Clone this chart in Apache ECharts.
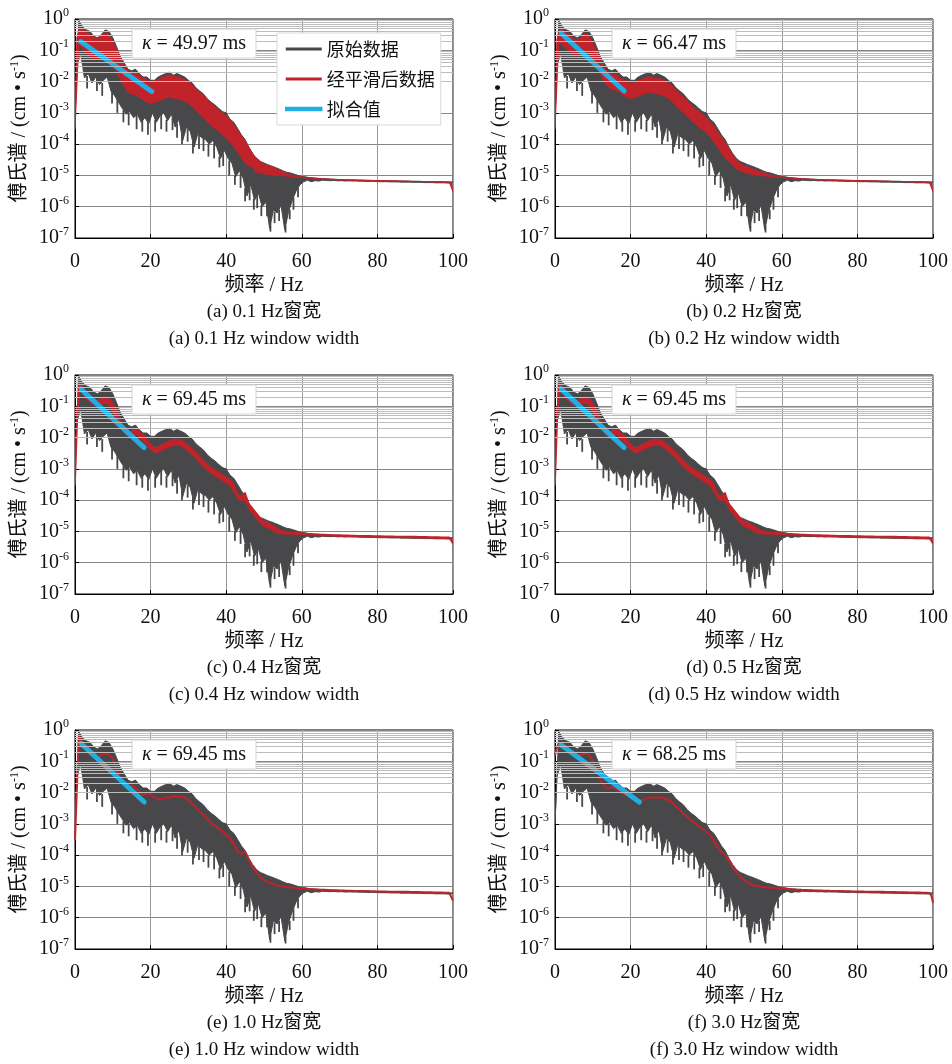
<!DOCTYPE html>
<html>
<head>
<meta charset="utf-8">
<script src="https://cdn.jsdelivr.net/npm/echarts@6/dist/echarts.min.js"></script>
<style>html,body{margin:0;padding:0;background:#fff}#c{width:952px;height:1064px}</style>
</head>
<body>
<div id="c"></div>
<script>
// ---------------- data ----------------
const xTicks = [0, 20, 40, 60, 80, 100];
const yTickExps = [-7, -6, -5, -4, -3, -2, -1, 0];

// raw spectrum (same in all panels): upper peaks at x = 0,1,...,100 ; lower troughs at x = 0.5,1.5,...,99.5
const rawHi = [
1e-3,9e-1,5.6e-1,4.5e-1,4e-1,2.8e-1,2.5e-1,3.2e-1,4.5e-1,4e-1,
2.5e-1,1.3e-1,6.3e-2,4e-2,2.5e-2,2.2e-2,2.5e-2,1.8e-2,1.4e-2,1.4e-2,
1.1e-2,1.1e-2,1.4e-2,1.6e-2,1.8e-2,2e-2,1.6e-2,1.8e-2,1.6e-2,1.4e-2,
1.1e-2,9e-3,6.3e-3,5e-3,4e-3,2.8e-3,2.2e-3,1.8e-3,1.4e-3,1.1e-3,
1e-3,6.3e-4,5e-4,3.2e-4,2e-4,1.4e-4,8e-5,5e-5,3.5e-5,2.8e-5,
2.5e-5,2.2e-5,2e-5,1.8e-5,1.6e-5,1.4e-5,1.26e-5,1.2e-5,1.1e-5,1e-5,
9.3e-6,9e-6,8.5e-6,8.3e-6,8.1e-6,8e-6,7.8e-6,7.7e-6,7.6e-6,7.5e-6,
7.4e-6,7.3e-6,7.3e-6,7.2e-6,7.2e-6,7.1e-6,7.1e-6,7e-6,7e-6,6.9e-6,
6.9e-6,6.8e-6,6.8e-6,6.7e-6,6.7e-6,6.7e-6,6.6e-6,6.6e-6,6.6e-6,6.5e-6,
6.5e-6,6.5e-6,6.4e-6,6.4e-6,6.4e-6,6.3e-6,6.3e-6,6.3e-6,6.2e-6,6.2e-6,
6.2e-6];
const rawLo = [
3.2e-2,8e-2,1.3e-2,1.8e-2,9e-3,1.4e-2,8e-3,1.1e-2,1.4e-2,5e-3,
3.5e-3,2.2e-3,1.4e-3,9e-4,1.1e-3,7e-4,9e-4,5e-4,7e-4,4.5e-4,
1e-3,5e-4,8e-4,1e-3,5.6e-4,9e-4,3.5e-4,6.3e-4,1.3e-4,3.5e-4,
2.5e-4,8e-5,2.2e-4,1.6e-4,1.4e-4,1e-4,1.3e-4,8e-5,3.5e-5,6.3e-5,
3.5e-5,2.5e-5,9e-6,1.4e-5,8e-6,2.2e-6,5e-6,1.6e-6,2.8e-6,1e-6,
1.4e-6,2e-7,8e-7,6.3e-7,1.1e-6,1.8e-7,7e-7,1.6e-6,3.2e-6,5e-6,
6.3e-6,7e-6,6.3e-6,6.8e-6,6.6e-6,7e-6,6.9e-6,6.8e-6,6.9e-6,6.7e-6,
6.8e-6,6.6e-6,6.7e-6,6.6e-6,6.6e-6,6.5e-6,6.5e-6,6.4e-6,6.5e-6,6.4e-6,
6.3e-6,6.3e-6,6.3e-6,6.2e-6,6.2e-6,6.2e-6,6.1e-6,6.1e-6,6.1e-6,6e-6,
6e-6,6e-6,5.9e-6,5.9e-6,5.9e-6,5.8e-6,5.8e-6,5.8e-6,5.7e-6,5.7e-6];
// narrow downward spikes of the raw spectrum: [frequency, from, to]
const rawSpikes = [
[3.2,1.5e-2,6e-3],[5.8,1.2e-2,5e-3],[7.2,9e-3,3.5e-3],[9.8,5e-3,2e-3],[11.2,2.8e-3,1e-3],
[12.8,1.2e-3,5e-4],[14.2,1e-3,4e-4],[16.3,9e-4,3e-4],[17.8,6e-4,2.5e-4],[19.3,5e-4,2e-4],
[21.2,6e-4,2.5e-4],[22.8,9e-4,3e-4],[24.2,6e-4,2.5e-4],[25.8,7e-4,2.8e-4],[27.0,4.5e-4,1.6e-4],
[28.3,2e-4,1e-4],[29.8,3e-4,1.2e-4],[31.2,1.2e-4,5e-5],[32.8,2e-4,7e-5],[34.0,1.5e-4,6e-5],
[35.3,1e-4,4e-5],[36.8,1.1e-4,3.5e-5],[38.2,4e-5,1.8e-5],[39.2,5e-5,2e-5],[40.8,3e-5,1e-5],
[42.3,1e-5,5e-6],[43.8,1.2e-5,4e-6],[45.0,4e-6,1.5e-6],[46.2,4e-6,1.6e-6],[47.3,1.8e-6,8e-7],
[48.2,2.5e-6,9e-7],[49.3,1.1e-6,5e-7],[50.8,1.1e-6,5e-7],[51.7,3e-7,1.6e-7],[52.8,7e-7,3e-7],
[54.0,8e-7,3.5e-7],[55.7,2.5e-7,1.5e-7],[56.8,8e-7,4e-7],[57.8,2e-6,8e-7],[59.0,4e-6,2e-6]];

// (a) 0.1 Hz smoothing: peaks at x = 0.5..99.5, troughs at x = 0..100
const redAHi = [
2.5e-1,7e-1,4.5e-1,3.5e-1,2.8e-1,2.5e-1,2.5e-1,3.5e-1,3.5e-1,2.5e-1,
1.4e-1,8e-2,4.5e-2,2.8e-2,2e-2,2e-2,1.8e-2,1.4e-2,1.25e-2,1e-2,
1e-2,1.1e-2,1.25e-2,1.4e-2,1.6e-2,1.6e-2,1.4e-2,1.4e-2,1.25e-2,1.1e-2,
9e-3,7e-3,5e-3,4e-3,3.2e-3,2.2e-3,1.8e-3,1.4e-3,1.1e-3,9e-4,
7e-4,5e-4,3.5e-4,2.2e-4,1.6e-4,1e-4,6.3e-5,4e-5,3.2e-5,2.5e-5,
2.2e-5,2e-5,1.8e-5,1.6e-5,1.4e-5,1.25e-5,1.1e-5,1e-5,9.3e-6,9e-6,
8.8e-6,8.6e-6,8.4e-6,8.2e-6,8e-6,7.8e-6,7.7e-6,7.6e-6,7.5e-6,7.4e-6,
7.3e-6,7.2e-6,7.2e-6,7.1e-6,7.1e-6,7e-6,7e-6,6.9e-6,6.9e-6,6.8e-6,
6.8e-6,6.7e-6,6.7e-6,6.7e-6,6.6e-6,6.6e-6,6.6e-6,6.5e-6,6.5e-6,6.5e-6,
6.4e-6,6.4e-6,6.4e-6,6.3e-6,6.3e-6,6.3e-6,6.2e-6,6.2e-6,6.2e-6,6.1e-6];
const redALo = [
3e-4,1.6e-1,1.1e-1,8e-2,6.3e-2,5.3e-2,5e-2,5.9e-2,7e-2,5.9e-2,
3.7e-2,2.1e-2,1.2e-2,7e-3,4.7e-3,4e-3,3.7e-3,3.2e-3,2.6e-3,2.2e-3,
2e-3,2.1e-3,2.4e-3,2.6e-3,3e-3,3.2e-3,3e-3,2.8e-3,2.6e-3,2.4e-3,
2e-3,1.6e-3,1.2e-3,9e-4,7e-4,5.3e-4,4e-4,3.2e-4,2.5e-4,2e-4,
1.6e-4,1.2e-4,8.4e-5,5.6e-5,3.7e-5,2.5e-5,2e-5,1.8e-5,1.25e-5,1.25e-5,
1.1e-5,1.1e-5,1.05e-5,1e-5,1e-5,1e-5,9.5e-6,9.1e-6,8.7e-6,8.5e-6,
8.5e-6,8.4e-6,8.2e-6,8e-6,7.9e-6,7.7e-6,7.6e-6,7.5e-6,7.4e-6,7.3e-6,
7.2e-6,7.2e-6,7.1e-6,7.1e-6,7e-6,7e-6,6.9e-6,6.9e-6,6.8e-6,6.8e-6,
6.7e-6,6.7e-6,6.7e-6,6.6e-6,6.6e-6,6.6e-6,6.5e-6,6.5e-6,6.5e-6,6.4e-6,
6.4e-6,6.4e-6,6.3e-6,6.3e-6,6.3e-6,6.2e-6,6.2e-6,6.2e-6,6.1e-6,6.1e-6,
3e-6];

// (b) 0.2 Hz smoothing
const redBHi = [
2.2e-1,6.3e-1,4e-1,3.2e-1,2.5e-1,2.2e-1,2.2e-1,3.2e-1,3.2e-1,2.2e-1,
1.25e-1,7e-2,4e-2,2.5e-2,1.8e-2,1.8e-2,1.6e-2,1.25e-2,1.1e-2,9e-3,
9e-3,1e-2,1.1e-2,1.25e-2,1.4e-2,1.4e-2,1.25e-2,1.25e-2,1.1e-2,1e-2,
8e-3,6.3e-3,4.5e-3,3.5e-3,2.8e-3,2e-3,1.6e-3,1.25e-3,1e-3,8e-4,
6.3e-4,4.5e-4,3.2e-4,2e-4,1.4e-4,9e-5,5.6e-5,3.7e-5,2.8e-5,2.2e-5,
2e-5,1.8e-5,1.6e-5,1.4e-5,1.3e-5,1.2e-5,1.05e-5,9.7e-6,9.2e-6,8.9e-6,
8.8e-6,8.6e-6,8.4e-6,8.2e-6,8e-6,7.8e-6,7.7e-6,7.6e-6,7.5e-6,7.4e-6,
7.3e-6,7.2e-6,7.2e-6,7.1e-6,7.1e-6,7e-6,7e-6,6.9e-6,6.9e-6,6.8e-6,
6.8e-6,6.7e-6,6.7e-6,6.7e-6,6.6e-6,6.6e-6,6.6e-6,6.5e-6,6.5e-6,6.5e-6,
6.4e-6,6.4e-6,6.4e-6,6.3e-6,6.3e-6,6.3e-6,6.2e-6,6.2e-6,6.2e-6,6.1e-6];
const redBLo = [
3e-4,2e-1,1.4e-1,1.1e-1,9e-2,7.5e-2,7e-2,8.5e-2,1e-1,8.5e-2,
5.3e-2,3e-2,1.7e-2,1e-2,6.8e-3,5.8e-3,5.4e-3,4.6e-3,3.7e-3,3.2e-3,
2.9e-3,3e-3,3.4e-3,3.8e-3,4.3e-3,4.5e-3,4.3e-3,4e-3,3.8e-3,3.4e-3,
2.9e-3,2.3e-3,1.7e-3,1.3e-3,1e-3,7.6e-4,5.8e-4,4.6e-4,3.6e-4,2.9e-4,
2.3e-4,1.7e-4,1.2e-4,8e-5,5.3e-5,3.6e-5,2.7e-5,2.1e-5,1.6e-5,1.4e-5,
1.25e-5,1.15e-5,1.1e-5,1.05e-5,1e-5,9.8e-6,9.5e-6,9.1e-6,8.8e-6,8.6e-6,
8.5e-6,8.4e-6,8.2e-6,8e-6,7.9e-6,7.7e-6,7.6e-6,7.5e-6,7.4e-6,7.3e-6,
7.2e-6,7.2e-6,7.1e-6,7.1e-6,7e-6,7e-6,6.9e-6,6.9e-6,6.8e-6,6.8e-6,
6.7e-6,6.7e-6,6.7e-6,6.6e-6,6.6e-6,6.6e-6,6.5e-6,6.5e-6,6.5e-6,6.4e-6,
6.4e-6,6.4e-6,6.3e-6,6.3e-6,6.3e-6,6.2e-6,6.2e-6,6.2e-6,6.1e-6,6.1e-6,
3e-6];

// (c) 0.4 Hz smoothing: peaks at x = 0..100, troughs at x = 0.5..99.5
const redCHi = [
3e-4,9e-1,3.8e-1,2.4e-1,1.9e-1,1.7e-1,1.5e-1,1.7e-1,1.9e-1,1.7e-1,
1.2e-1,6.3e-2,3.4e-2,2.1e-2,1.5e-2,1.5e-2,2.1e-2,1.5e-2,1.2e-2,8.5e-3,
6e-3,4.8e-3,4.8e-3,6e-3,6.7e-3,7.6e-3,8.5e-3,8.5e-3,8.5e-3,6.7e-3,
5.4e-3,4.3e-3,3.3e-3,2.4e-3,1.8e-3,1.35e-3,1.07e-3,9.1e-4,7.6e-4,6.3e-4,
5.2e-4,4.3e-4,3.2e-4,1.5e-4,1.35e-4,1.7e-4,7.6e-5,5.4e-5,3.8e-5,2.7e-5,
2.1e-5,1.9e-5,1.6e-5,1.35e-5,1.12e-5,1.02e-5,9.5e-6,9.2e-6,9e-6,8.8e-6,
8.7e-6,8.5e-6,8.4e-6,8.2e-6,8.1e-6,8e-6,7.9e-6,7.8e-6,7.7e-6,7.7e-6,
7.6e-6,7.5e-6,7.5e-6,7.4e-6,7.4e-6,7.3e-6,7.3e-6,7.2e-6,7.2e-6,7.1e-6,
7.1e-6,7.1e-6,7e-6,7e-6,7e-6,6.9e-6,6.9e-6,6.9e-6,6.8e-6,6.8e-6,
6.8e-6,6.7e-6,6.7e-6,6.7e-6,6.6e-6,6.6e-6,6.6e-6,6.5e-6,6.5e-6,6.5e-6,
4e-6];
const redCLo = [
8e-2,4.2e-1,2.1e-1,1.5e-1,1.2e-1,1.1e-1,1.1e-1,1.25e-1,1.25e-1,1e-1,
6e-2,3.2e-2,1.8e-2,1.23e-2,1.05e-2,1.25e-2,1.25e-2,9.3e-3,6.9e-3,5e-3,
3.7e-3,3.3e-3,3.7e-3,4.3e-3,5e-3,5.5e-3,5.9e-3,5.9e-3,5.2e-3,4.2e-3,
3.3e-3,2.6e-3,1.9e-3,1.4e-3,1.07e-3,8.3e-4,6.9e-4,5.7e-4,4.8e-4,4e-4,
3.3e-4,2.5e-4,1.5e-4,1e-4,1.05e-4,7.9e-5,4.4e-5,3.2e-5,2.2e-5,1.65e-5,
1.4e-5,1.23e-5,1.05e-5,9.2e-6,8.5e-6,8.5e-6,8.4e-6,8.3e-6,8.2e-6,8.2e-6,
8.2e-6,8.1e-6,7.9e-6,7.8e-6,7.7e-6,7.6e-6,7.5e-6,7.4e-6,7.3e-6,7.2e-6,
7.2e-6,7.1e-6,7.1e-6,7e-6,7e-6,6.9e-6,6.9e-6,6.8e-6,6.8e-6,6.7e-6,
6.7e-6,6.7e-6,6.6e-6,6.6e-6,6.6e-6,6.5e-6,6.5e-6,6.5e-6,6.4e-6,6.4e-6,
6.4e-6,6.3e-6,6.3e-6,6.3e-6,6.2e-6,6.2e-6,6.2e-6,6.1e-6,6.1e-6,6.1e-6];

// (d) 0.5 Hz smoothing reads the same as (c) at this resolution
const redDHi = redCHi;
const redDLo = redCLo;

// (e) 1.0 Hz smoothing, x = 0..100
const redE = [
3e-4,6.3e-1,3.5e-1,2.2e-1,1.65e-1,1.4e-1,1.3e-1,1.6e-1,1.75e-1,1.6e-1,
1.2e-1,5.6e-2,2.6e-2,1.65e-2,1.3e-2,1.75e-2,1.4e-2,1.1e-2,8.3e-3,9.5e-3,
8.9e-3,7.1e-3,6e-3,6.3e-3,7.1e-3,6.6e-3,7.9e-3,7.2e-3,7.9e-3,6.9e-3,
5.75e-3,4.4e-3,3.3e-3,2.5e-3,1.9e-3,1.5e-3,1.02e-3,8.9e-4,7.1e-4,5.75e-4,
4.4e-4,3.5e-4,2.3e-4,1.3e-4,1.12e-4,1.3e-4,7.1e-5,4.2e-5,2.8e-5,2e-5,
1.58e-5,1.4e-5,1.26e-5,1.12e-5,1.02e-5,1e-5,9.5e-6,9.2e-6,9e-6,8.8e-6,
8.6e-6,8.4e-6,8.2e-6,8.1e-6,8e-6,7.9e-6,7.8e-6,7.7e-6,7.6e-6,7.5e-6,
7.4e-6,7.4e-6,7.3e-6,7.3e-6,7.2e-6,7.2e-6,7.1e-6,7.1e-6,7e-6,7e-6,
6.9e-6,6.9e-6,6.9e-6,6.8e-6,6.8e-6,6.8e-6,6.7e-6,6.7e-6,6.7e-6,6.6e-6,
6.6e-6,6.6e-6,6.5e-6,6.5e-6,6.5e-6,6.4e-6,6.4e-6,6.4e-6,6.3e-6,6.3e-6,
3.5e-6];

// (f) 3.0 Hz smoothing, x = 0..100
const redF = [
1.5e-1,3.7e-1,4e-1,2.6e-1,2e-1,1.8e-1,1.6e-1,1.6e-1,1.8e-1,1.6e-1,
1e-1,5.2e-2,2.5e-2,1.6e-2,1.35e-2,1.5e-2,1.35e-2,1.05e-2,9.3e-3,8.3e-3,
7.2e-3,6.5e-3,5.8e-3,5.8e-3,6.3e-3,6.8e-3,6.9e-3,6.9e-3,6.9e-3,6.5e-3,
5.8e-3,4.7e-3,3.6e-3,2.8e-3,2.1e-3,1.65e-3,1.3e-3,1.05e-3,8.3e-4,6.9e-4,
5.5e-4,4.3e-4,2.95e-4,1.8e-4,1.26e-4,1e-4,6.8e-5,4.2e-5,2.9e-5,2.1e-5,
1.6e-5,1.35e-5,1.15e-5,1.07e-5,1e-5,9.5e-6,9.3e-6,9.1e-6,8.9e-6,8.7e-6,
8.5e-6,8.3e-6,8.2e-6,8e-6,7.9e-6,7.8e-6,7.7e-6,7.6e-6,7.5e-6,7.4e-6,
7.4e-6,7.3e-6,7.3e-6,7.2e-6,7.2e-6,7.1e-6,7.1e-6,7e-6,7e-6,6.9e-6,
6.9e-6,6.9e-6,6.8e-6,6.8e-6,6.8e-6,6.7e-6,6.7e-6,6.7e-6,6.6e-6,6.6e-6,
6.6e-6,6.5e-6,6.5e-6,6.5e-6,6.4e-6,6.4e-6,6.4e-6,6.3e-6,6.3e-6,6.2e-6,
3e-6];

// fitted straight lines [frequency, spectrum]
const fitA = [[1.5, 1.9e-1], [20.3, 4.8e-3]];
const fitB = [[1.6, 3.5e-1], [18.3, 5e-3]];
const fitC = [[1.6, 3.5e-1], [18.3, 4.8e-3]];
const fitD = [[1.6, 3.6e-1], [18.3, 4.8e-3]];
const fitE = [[1.6, 3.7e-1], [18.3, 5e-3]];
const fitF = [[1.6, 3.3e-1], [22.3, 5e-3]];

const kappas = ['49.97', '66.47', '69.45', '69.45', '69.45', '68.25'];
const captionsCN = ['(a) 0.1 Hz窗宽', '(b) 0.2 Hz窗宽', '(c) 0.4 Hz窗宽', '(d) 0.5 Hz窗宽', '(e) 1.0 Hz窗宽', '(f) 3.0 Hz窗宽'];
const captionsEN = ['(a) 0.1 Hz window width', '(b) 0.2 Hz window width', '(c) 0.4 Hz window width',
                    '(d) 0.5 Hz window width', '(e) 1.0 Hz window width', '(f) 3.0 Hz window width'];
const seriesNames = ['原始数据', '经平滑后数据', '拟合值'];

// ---------------- build ----------------
const FONT = "'Liberation Serif','Noto Sans CJK SC',serif";
const CJK = "'Noto Sans CJK SC','Liberation Serif',sans-serif";
const C_RAW = '#48484a', C_RED = '#c1232b', C_FIT = '#22aee3';
const GW = 378, GH = 219;
const gridPos = [[75, 19], [555, 19], [75, 375], [555, 375], [75, 730], [555, 730]];

// polygon: one edge forward, the other backward (x = offset + index)
function bandPolygon(hi, hi0, lo, lo0) {
  const pts = hi.map((v, i) => [hi0 + i, v]);
  for (let i = lo.length - 1; i >= 0; i--) pts.push([lo0 + i, lo[i]]);
  return pts;
}
const line1 = arr => arr.map((v, i) => [i, v]);

const rawPoly = bandPolygon(rawHi, 0, rawLo, 0.5);
const redBands = [
  bandPolygon(redALo, 0, redAHi, 0.5),
  bandPolygon(redBLo, 0, redBHi, 0.5),
  bandPolygon(redCHi, 0, redCLo, 0.5),
  bandPolygon(redDHi, 0, redDLo, 0.5),
  null, null
];
const redLines = [null, null, null, null, line1(redE), line1(redF)];
const fits = [fitA, fitB, fitC, fitD, fitE, fitF];

function bandSeries(name, poly, color, gi, z, strokeW) {
  return {
    type: 'custom', name: name, xAxisIndex: gi, yAxisIndex: gi, z: z, silent: true, clip: true,
    itemStyle: { color: color },
    data: poly, encode: { x: 0, y: 1 },
    renderItem: function (params, api) {
      if (params.dataIndex !== 0) return;
      const points = poly.map(p => api.coord(p));
      return {
        type: 'polygon', shape: { points: points },
        style: { fill: color, stroke: color, lineWidth: strokeW, lineJoin: 'round' }
      };
    }
  };
}
function spikeSeries(gi) {
  return {
    type: 'custom', xAxisIndex: gi, yAxisIndex: gi, z: 2, silent: true, clip: true,
    data: rawSpikes, encode: { x: 0, y: [1, 2] },
    renderItem: function (params, api) {
      const p1 = api.coord([api.value(0), api.value(1)]);
      const p2 = api.coord([api.value(0), api.value(2)]);
      return {
        type: 'line', shape: { x1: p1[0], y1: p1[1], x2: p2[0], y2: p2[1] },
        style: { stroke: C_RAW, lineWidth: 1.8 }
      };
    }
  };
}

// minor log grid lines 2..9 x 10^k
const minorVals = [];
yTickExps.slice(0, -1).forEach(e => { for (let m = 2; m <= 9; m++) minorVals.push(m * Math.pow(10, e)); });

const grids = [], xAxes = [], yAxes = [], series = [], graphics = [];
gridPos.forEach(([l, t], i) => {
  grids.push({ left: l, top: t, width: GW, height: GH, show: true, borderColor: '#000', borderWidth: 1, backgroundColor: 'rgba(0,0,0,0)' });
  xAxes.push({
    gridIndex: i, type: 'value', min: xTicks[0], max: xTicks[xTicks.length - 1], interval: xTicks[1] - xTicks[0],
    axisLine: { show: true, onZero: false, lineStyle: { color: '#000', width: 1 } },
    axisTick: { show: true, inside: true, length: 4, lineStyle: { color: '#000' } },
    axisLabel: { fontFamily: FONT, fontSize: 20, color: '#111', margin: 14 },
    splitLine: { show: true, lineStyle: { color: '#9a9a9a', width: 1 } },
    name: '频率 / Hz', nameLocation: 'middle', nameGap: 38,
    nameTextStyle: { fontFamily: FONT, fontSize: 20, color: '#111' }
  });
  yAxes.push({
    gridIndex: i, type: 'log', logBase: 10, min: Math.pow(10, yTickExps[0]), max: Math.pow(10, yTickExps[yTickExps.length - 1]),
    splitNumber: 7,
    axisLine: { show: true, lineStyle: { color: '#000', width: 1 } },
    axisTick: { show: true, inside: true, length: 4, lineStyle: { color: '#000' } },
    axisLabel: {
      margin: 6,
      formatter: v => '{b|10}{s|' + Math.round(Math.log10(v)) + '}',
      rich: {
        b: { fontFamily: FONT, fontSize: 20, color: '#111', lineHeight: 24 },
        s: { fontFamily: FONT, fontSize: 12, color: '#111', lineHeight: 10, verticalAlign: 'top' }
      }
    },
    splitLine: { show: true, lineStyle: { color: '#868686', width: 1 } },
    name: '{a|傅氏谱 / (cm • s}{s|-1}{a|)}', nameLocation: 'middle', nameRotate: 90, nameGap: 44,
    nameTextStyle: {
      rich: {
        a: { fontFamily: FONT, fontSize: 20, color: '#111', lineHeight: 22 },
        s: { fontFamily: FONT, fontSize: 12, color: '#111', lineHeight: 10, verticalAlign: 'top' }
      }
    }
  });
  // minor grid lines
  series.push({
    type: 'line', xAxisIndex: i, yAxisIndex: i, data: [], z: 1, silent: true,
    markLine: {
      silent: true, symbol: ['none', 'none'], animation: false,
      label: { show: false },
      lineStyle: { color: '#bdbdbd', width: 1, type: 'solid' },
      emphasis: { disabled: true },
      data: minorVals.map(v => ({ yAxis: v }))
    }
  });
  series.push(bandSeries(seriesNames[0], rawPoly, C_RAW, i, 2, 1));
  series.push(spikeSeries(i));
  if (redBands[i]) {
    series.push(bandSeries(seriesNames[1], redBands[i], C_RED, i, 3, i < 2 ? 1 : 1.6));
  } else {
    series.push({
      name: seriesNames[1], type: 'line', xAxisIndex: i, yAxisIndex: i, data: redLines[i], z: 3,
      symbol: 'none', showSymbol: false, silent: true, smooth: i === 5 ? 0.4 : false,
      lineStyle: { color: C_RED, width: 2 }, itemStyle: { color: C_RED }
    });
  }
  series.push({
    name: seriesNames[2], type: 'line', xAxisIndex: i, yAxisIndex: i, data: fits[i], z: 4,
    symbol: 'none', showSymbol: false, silent: true, lineStyle: { color: C_FIT, width: 5, cap: 'round' }, itemStyle: { color: C_FIT }
  });
  // kappa label box
  graphics.push({
    type: 'rect', z: 100, shape: { x: l + 57, y: t + 10, width: 124, height: 29 },
    style: { fill: '#fff', stroke: '#d2d2d2', lineWidth: 1 }
  });
  graphics.push({
    type: 'text', z: 101, x: l + 119, y: t + 25,
    style: {
      text: '{i|κ} = ' + kappas[i] + ' ms', fill: '#111', fontFamily: FONT, fontSize: 20,
      align: 'center', verticalAlign: 'middle',
      rich: { i: { fontFamily: FONT, fontSize: 20, fontStyle: 'italic', fill: '#111' } }
    }
  });
  // captions
  graphics.push({
    type: 'text', z: 101, x: l + GW / 2, y: t + GH + 74,
    style: { text: captionsCN[i], fill: '#111', fontFamily: FONT, fontSize: 19, align: 'center', verticalAlign: 'middle' }
  });
  graphics.push({
    type: 'text', z: 101, x: l + GW / 2, y: t + GH + 101,
    style: { text: captionsEN[i], fill: '#111', fontFamily: FONT, fontSize: 19, align: 'center', verticalAlign: 'middle' }
  });
});

const option = {
  animation: false,
  backgroundColor: '#fff',
  grid: grids, xAxis: xAxes, yAxis: yAxes, series: series,
  legend: {
    orient: 'vertical', left: 277, top: 33, z: 50,
    padding: [7, 6, 7, 8], itemGap: 12, itemWidth: 36, itemHeight: 3,
    backgroundColor: '#fff', borderColor: '#d9d9d9', borderWidth: 1,
    selectedMode: false,
    textStyle: { fontFamily: CJK, fontSize: 18, color: '#111' },
    data: [
      { name: seriesNames[0], icon: 'rect', itemStyle: { color: C_RAW, borderWidth: 0 } },
      { name: seriesNames[1], icon: 'rect', itemStyle: { color: C_RED, borderWidth: 0 } },
      { name: seriesNames[2], icon: 'rect', itemStyle: { color: C_FIT, borderColor: C_FIT, borderWidth: 1.5 } }
    ]
  },
  graphic: { elements: graphics }
};

const chart = echarts.init(document.getElementById('c'), null, { renderer: 'canvas' });
chart.setOption(option);
</script>
</body>
</html>
